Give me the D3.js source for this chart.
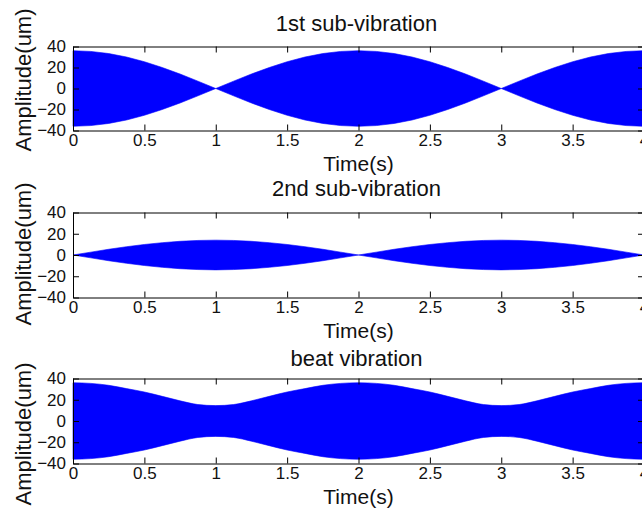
<!DOCTYPE html>
<html><head><meta charset="utf-8">
<script src="https://cdn.jsdelivr.net/npm/d3@7"></script>
<style>body{margin:0;background:#fff;overflow:hidden}svg{display:block}</style>
</head><body>
<svg id="c" width="642" height="513"></svg>
<script>
// time grid (s)
const time = [0,0.125,0.25,0.375,0.5,0.625,0.75,0.875,1,1.125,1.25,1.375,1.5,1.625,1.75,1.875,2,
              2.125,2.25,2.375,2.5,2.625,2.75,2.875,3,3.125,3.25,3.375,3.5,3.625,3.75,3.875,4];
// amplitude envelopes (um)
const env1 = [36,35.3,33.3,30,25.5,20,13.8,7,0,7,13.8,20,25.5,30,33.3,35.3,36,
              35.3,33.3,30,25.5,20,13.8,7,0,7,13.8,20,25.5,30,33.3,35.3,36];
const env2 = [0,2.7,5.4,7.8,9.9,11.6,12.9,13.7,14,13.7,12.9,11.6,9.9,7.8,5.4,2.7,0,
              2.7,5.4,7.8,9.9,11.6,12.9,13.7,14,13.7,12.9,11.6,9.9,7.8,5.4,2.7,0];
const env3 = [36,35.4,33.6,30.5,27.3,23.2,19,15.5,14.5,15.5,19,23.2,27.3,30.5,33.6,35.4,36,
              35.4,33.6,30.5,27.3,23.2,19,15.5,14.5,15.5,19,23.2,27.3,30.5,33.6,35.4,36];
const titles = ["1st sub-vibration","2nd sub-vibration","beat vibration"];
const xLabel = "Time(s)";
const yLabel = "Amplitude(um)";
const xTicks = [0,0.5,1,1.5,2,2.5,3,3.5,4];
const yTicks = [-40,-20,0,20,40];

const FONT = "'Liberation Sans', Arial, sans-serif";
const svg = d3.select("#c");
const x = d3.scaleLinear().domain([0,4]).range([73,644]);

const panels = [
  {env: env1, top: 46.5, bottom: 130.5, titleY: 31, labelY: 80, curve: d3.curveLinear},
  {env: env2, top: 212.5, bottom: 297.5, titleY: 196, labelY: 254, curve: d3.curveLinear},
  {env: env3, top: 378.5, bottom: 463.5, titleY: 366, labelY: 434, curve: d3.curveMonotoneX}
];

panels.forEach((p, i) => {
  const y = d3.scaleLinear().domain([-40,40]).range([p.bottom, p.top]);
  const g = svg.append("g");
  const data = time.map((t, k) => ({t, a: p.env[k]}));

  g.append("path")
    .datum(data)
    .attr("fill", "#0000ff")
    .attr("stroke", "#0000ff")
    .attr("stroke-width", 0.6)
    .attr("stroke-linejoin", "round")
    .attr("d", d3.area()
      .x(d => x(d.t))
      .y0(d => y(-d.a))
      .y1(d => y(d.a))
      .curve(p.curve));

  const style = sel => {
    sel.attr("font-family", FONT).attr("font-size", 17);
    sel.select(".domain").attr("stroke", "#000").attr("stroke-width", 1);
    sel.selectAll(".tick line").attr("stroke", "#000").attr("stroke-width", 1);
    sel.selectAll(".tick text").attr("fill", "#111");
  };

  g.append("g").attr("transform", `translate(0,${p.bottom})`)
    .call(d3.axisBottom(x).tickValues(xTicks).tickSizeInner(-6).tickSizeOuter(0).tickPadding(3)
      .tickFormat(d3.format("")))
    .call(style);
  g.append("g").attr("transform", `translate(0,${p.top})`)
    .call(d3.axisTop(x).tickValues(xTicks).tickSizeInner(-6).tickSizeOuter(0).tickFormat(() => ""))
    .call(style);
  g.append("g").attr("transform", `translate(${x(0)},0)`)
    .call(d3.axisLeft(y).tickValues(yTicks).tickSizeInner(-6).tickSizeOuter(0).tickPadding(7)
      .tickFormat(d3.format("")))
    .call(style);
  g.append("g").attr("transform", `translate(${x(4)},0)`)
    .call(d3.axisRight(y).tickValues(yTicks).tickSizeInner(-6).tickSizeOuter(0).tickFormat(() => ""))
    .call(style);

  g.append("text")
    .attr("x", (x(0) + x(4)) / 2 - 2).attr("y", p.titleY)
    .attr("text-anchor", "middle")
    .attr("font-family", FONT).attr("font-size", 22).attr("fill", "#111")
    .text(titles[i]);

  g.append("text")
    .attr("x", (x(0) + x(4)) / 2).attr("y", p.bottom + 40)
    .attr("text-anchor", "middle")
    .attr("font-family", FONT).attr("font-size", 21).attr("fill", "#111")
    .text(xLabel);

  g.append("text")
    .attr("transform", `translate(31,${p.labelY}) rotate(-90)`)
    .attr("text-anchor", "middle")
    .attr("font-family", FONT).attr("font-size", 22).attr("fill", "#111")
    .text(yLabel);
});
</script>
</body></html>
